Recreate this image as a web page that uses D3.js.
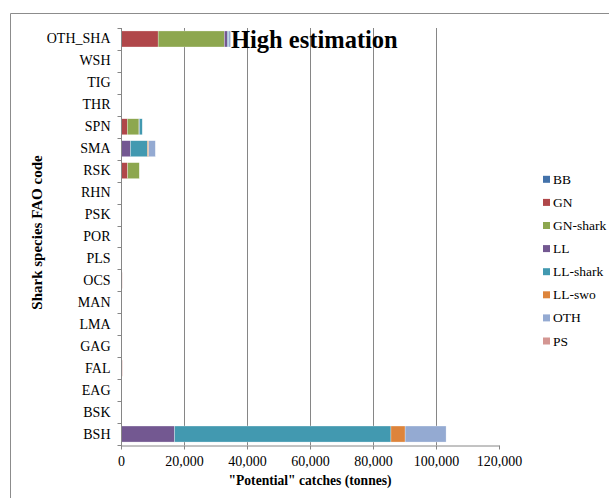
<!DOCTYPE html>
<html><head><meta charset="utf-8">
<script src="https://cdn.jsdelivr.net/npm/d3@7/dist/d3.min.js"></script>
<style>body{margin:0;background:#fff;} svg text{font-family:"Liberation Serif","Times New Roman",serif !important;}</style>
</head><body><svg id="c" width="609" height="498"></svg>
<script>
const categories = ["OTH_SHA","WSH","TIG","THR","SPN","SMA","RSK","RHN","PSK","POR","PLS","OCS","MAN","LMA","GAG","FAL","EAG","BSK","BSH"];
const seriesNames = ["BB","GN","GN-shark","LL","LL-shark","LL-swo","OTH","PS"];
const seriesColors = ["#4372AA","#B0474A","#8DA74F","#735891","#4299B0","#DD843B","#94AAD2","#D49692"];
const BB       = [0,0,0,0,0,0,0,0,0,0,0,0,0,0,0,0,0,0,0];
const GN       = [11800,0,0,0,2000,0,2100,0,0,0,0,0,0,0,0,0,0,0,0];
const GN_shark = [21000,0,0,0,3700,0,3700,0,0,150,0,0,0,250,0,0,0,0,0];
const LL       = [1000,0,0,0,150,3000,0,0,0,0,0,0,0,0,0,0,0,0,17000];
const LL_shark = [300,0,0,0,900,5400,0,0,0,0,0,0,0,0,0,0,0,0,68700];
const LL_swo   = [0,0,0,0,0,400,0,0,0,150,0,300,0,0,0,0,0,0,4500];
const OTH      = [700,0,0,0,0,2100,0,0,0,0,0,0,0,0,0,0,0,0,13000];
const PS       = [0,0,0,0,0,0,0,0,0,0,0,100,150,0,0,450,0,0,0];
const xTicks = [0,20000,40000,60000,80000,100000,120000];

const seriesData = [BB,GN,GN_shark,LL,LL_shark,LL_swo,OTH,PS];
const rows = categories.map((c,i)=>{const r={cat:c}; seriesNames.forEach((s,j)=>r[s]=seriesData[j][i]); return r;});
const stack = d3.stack().keys(seriesNames)(rows);

const FF = "'Liberation Serif','Times New Roman',serif";
const svg = d3.select("#c");
// outer frame
svg.append("path").attr("d","M10.5,498 L10.5,13.5 L609,13.5").attr("fill","none").attr("stroke","#8c8c8c").attr("stroke-width",1);

const L=121, R=499, T=28, B=445;
const x = d3.scaleLinear().domain([0,120000]).range([L,R]);
const y = d3.scaleBand().domain(categories).range([T,B]).paddingInner(0.27).paddingOuter(0.135);
const yb = d3.scaleBand().domain(categories).range([T,B]);

// gridlines
svg.append("g").selectAll("line").data(xTicks.slice(1,-1)).join("line")
  .attr("x1",d=>Math.round(x(d))+0.5).attr("x2",d=>Math.round(x(d))+0.5)
  .attr("y1",T).attr("y2",B).attr("stroke","#868686").attr("stroke-width",1);

// bars
svg.append("g").selectAll("g").data(stack).join("g")
  .attr("fill",(d,i)=>seriesColors[i])
  .selectAll("rect").data(d=>d).join("rect")
  .attr("x",d=>x(d[0])).attr("width",d=>Math.max(0,x(d[1])-x(d[0])))
  .attr("y",d=>y(d.data.cat)).attr("height",y.bandwidth())
  .attr("stroke","#ffffff").attr("stroke-opacity",0.6).attr("stroke-width",0.5);

// x axis
const xa = svg.append("g").attr("transform",`translate(0,${B+0.5})`)
  .call(d3.axisBottom(x).tickValues(xTicks).tickFormat(d3.format(",")).tickSizeInner(4).tickSizeOuter(0).tickPadding(7))
  .attr("font-family",FF);
xa.select(".domain").attr("stroke","#868686");
xa.selectAll(".tick line").attr("stroke","#868686");
xa.selectAll("text").attr("font-size","14px").attr("fill","#000").style("font-family",FF);

// y axis
const ya = svg.append("g").attr("transform",`translate(${L+0.5},0)`)
  .call(d3.axisLeft(yb).tickSize(0).tickPadding(11)).attr("font-family",FF);
ya.select(".domain").attr("stroke","#868686").attr("d",`M0,${T}V${B+4}`);
ya.selectAll("text").attr("font-size","14px").attr("fill","#000").style("font-family",FF);
const bounds = [...categories.map(c=>yb(c)), B];
ya.append("g").selectAll("line").data(bounds).join("line")
  .attr("x1",-4).attr("x2",0).attr("y1",d=>Math.round(d)+0.5).attr("y2",d=>Math.round(d)+0.5).attr("stroke","#868686");

// axis titles
svg.append("text").attr("x",310).attr("y",485).attr("text-anchor","middle").style("font-family",FF)
  .attr("font-size","13.6px").attr("font-weight","bold").text("\"Potential\" catches (tonnes)");
svg.append("text").attr("transform",`translate(42,${(T+B)/2 - 4}) rotate(-90)`).attr("text-anchor","middle").style("font-family",FF)
  .attr("font-size","15px").attr("font-weight","bold").text("Shark species FAO code");

// title annotation
svg.append("text").attr("x",231).attr("y",48).attr("font-size","24.5px").attr("font-weight","bold").style("font-family",FF).text("High estimation");

// legend
const lg = svg.append("g").selectAll("g").data(seriesNames).join("g")
  .attr("transform",(d,i)=>`translate(543,${179.3+i*23.1})`);
lg.append("rect").attr("x",0).attr("y",-3.5).attr("width",7).attr("height",7).attr("fill",(d,i)=>seriesColors[i]);
lg.append("text").attr("x",10).attr("y",4.5).attr("font-size","13.5px").style("font-family",FF).text(d=>d);
</script></body></html>
